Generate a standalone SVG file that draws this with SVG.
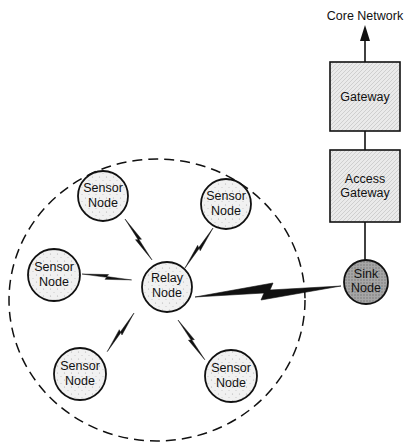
<svg xmlns="http://www.w3.org/2000/svg" width="405" height="443" viewBox="0 0 405 443">
<style>
text{font-family:"Liberation Sans",Arial,sans-serif;font-size:12.5px;fill:#111;text-anchor:middle}
.node{stroke:#111;stroke-width:1.8;fill:url(#stip)}
.box{stroke:#111;stroke-width:1.6;fill:url(#hatch)}
.line{stroke:#111;stroke-width:1.6;fill:none}
.bolt{fill:#111;stroke:#111;stroke-width:0.6}
</style>
<defs>
<pattern id="stip" width="7" height="7" patternUnits="userSpaceOnUse">
<rect width="7" height="7" fill="#f1f1f1"/>
<circle cx="1.5" cy="2" r="0.6" fill="#b0b0b0"/>
<circle cx="5" cy="5.5" r="0.5" fill="#c0c0c0"/>
</pattern>
<pattern id="hatch" width="4" height="4" patternUnits="userSpaceOnUse">
<rect width="4" height="4" fill="#eaeaea"/>
<path d="M0,4 L4,0" stroke="#bcbcbc" stroke-width="0.6"/>
</pattern>
<pattern id="dark" width="3" height="3" patternUnits="userSpaceOnUse">
<rect width="3" height="3" fill="#a6a6a6"/>
<circle cx="1" cy="1" r="0.7" fill="#6e6e6e"/>
</pattern>
<path id="bolt" d="M0,0 L53,-2.6 L50,-0.4 L100,0 L47,2.6 L50,0.4 Z"/>
</defs>

<ellipse cx="157" cy="300" rx="148" ry="141" fill="none" stroke="#111" stroke-width="1.5" stroke-dasharray="10,6"/>

<g id="connectors">
<line class="line" x1="365" y1="62" x2="365" y2="38"/>
<polygon points="365,25 360,41 370,41" fill="#111"/>
<line class="line" x1="365" y1="131" x2="365" y2="150"/>
<line class="line" x1="365" y1="222" x2="365" y2="260"/>
<use href="#bolt" class="bolt" transform="translate(125,219) rotate(56.6) scale(0.49,1)"/>
<use href="#bolt" class="bolt" transform="translate(213,228) rotate(125) scale(0.49,1)"/>
<use href="#bolt" class="bolt" transform="translate(82,274) rotate(6.8) scale(0.50,1)"/>
<use href="#bolt" class="bolt" transform="translate(134,313) rotate(124.7) scale(0.47,1)"/>
<use href="#bolt" class="bolt" transform="translate(178,320) rotate(56) scale(0.48,1)"/>
<polygon class="bolt" points="195,297 273,283 270,290 341,286 261,300 264,293"/>
</g>

<g id="core-network"><text x="365" y="20">Core Network</text></g>

<g id="gateway">
<rect class="box" x="330" y="62" width="70" height="69"/>
<text x="365" y="101">Gateway</text>
</g>

<g id="access-gateway">
<rect class="box" x="330" y="150" width="70" height="72"/>
<text x="365" y="183">Access</text>
<text x="365" y="197">Gateway</text>
</g>

<g id="sink-node">
<circle cx="366" cy="282" r="22" stroke="#111" stroke-width="1.8" fill="url(#dark)"/>
<text x="366" y="278">Sink</text>
<text x="366" y="292">Node</text>
</g>

<g id="relay-node">
<circle class="node" cx="167" cy="287" r="25"/>
<text x="167" y="282">Relay</text>
<text x="167" y="297">Node</text>
</g>

<g id="sensor-tl">
<circle class="node" cx="103" cy="196" r="25"/>
<text x="103" y="192">Sensor</text>
<text x="103" y="207">Node</text>
</g>

<g id="sensor-tr">
<circle class="node" cx="226" cy="204" r="25"/>
<text x="226" y="200">Sensor</text>
<text x="226" y="215">Node</text>
</g>

<g id="sensor-l">
<circle class="node" cx="54" cy="275" r="26"/>
<text x="54" y="271">Sensor</text>
<text x="54" y="286">Node</text>
</g>

<g id="sensor-bl">
<circle class="node" cx="80" cy="374" r="26"/>
<text x="80" y="370">Sensor</text>
<text x="80" y="385">Node</text>
</g>

<g id="sensor-br">
<circle class="node" cx="231" cy="376" r="26"/>
<text x="231" y="372">Sensor</text>
<text x="231" y="387">Node</text>
</g>
</svg>
